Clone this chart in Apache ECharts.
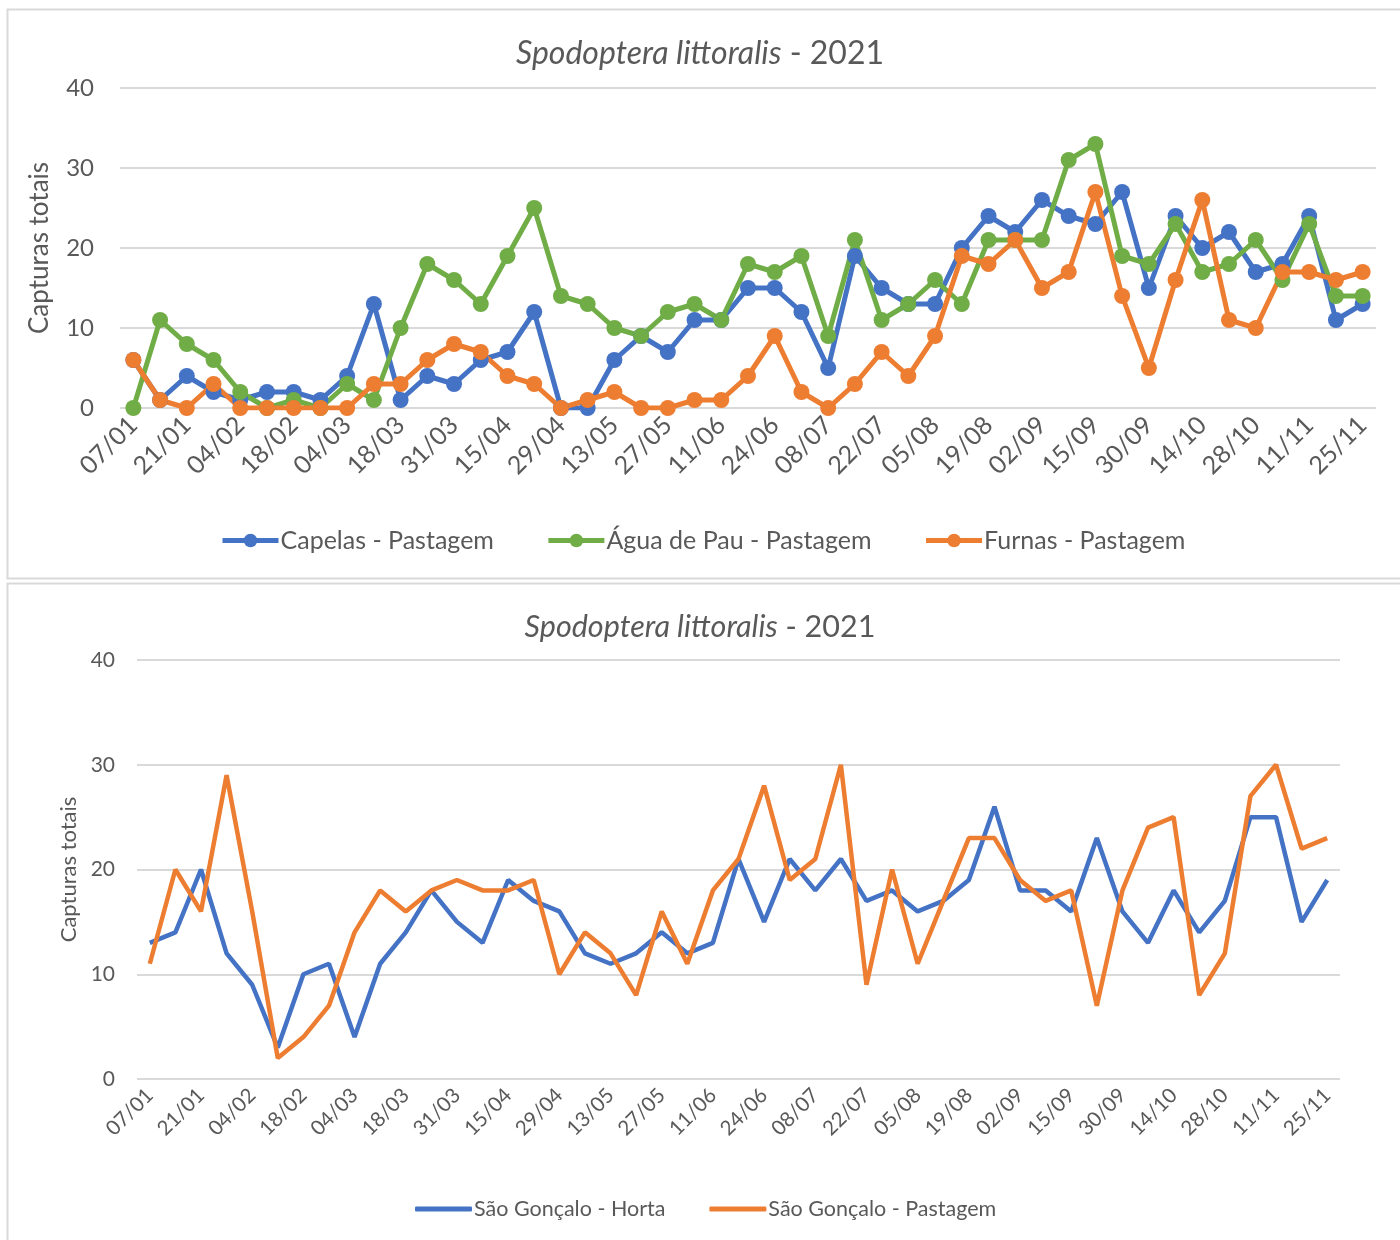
<!DOCTYPE html>
<html>
<head>
<meta charset="utf-8">
<script src="https://cdn.jsdelivr.net/npm/echarts@6/dist/echarts.min.js"></script>
<style>
html,body{margin:0;padding:0;background:#fff;}
#c{width:1400px;height:1240px;}
</style>
</head>
<body>
<div id="c"></div>
<script>
// Categories (sampling dates, 2021)
var dates = ['07/01','14/01','21/01','28/01','04/02','11/02','18/02','25/02','04/03','11/03','18/03','25/03','31/03','08/04','15/04','22/04','29/04','06/05','13/05','20/05','27/05','03/06','11/06','17/06','24/06','01/07','08/07','15/07','22/07','29/07','05/08','12/08','19/08','26/08','02/09','09/09','15/09','22/09','30/09','07/10','14/10','21/10','28/10','04/11','11/11','18/11','25/11'];

// Top chart series
var capelas = [6,1,4,2,1,2,2,1,4,13,1,4,3,6,7,12,0,0,6,9,7,11,11,15,15,12,5,19,15,13,13,20,24,22,26,24,23,27,15,24,20,22,17,18,24,11,13];
var aguaDePau = [0,11,8,6,2,0,1,0,3,1,10,18,16,13,19,25,14,13,10,9,12,13,11,18,17,19,9,21,11,13,16,13,21,21,21,31,33,19,18,23,17,18,21,16,23,14,14];
var furnas = [6,1,0,3,0,0,0,0,0,3,3,6,8,7,4,3,0,1,2,0,0,1,1,4,9,2,0,3,7,4,9,19,18,21,15,17,27,14,5,16,26,11,10,17,17,16,17];

// Bottom chart series
var sgHorta = [13,14,20,12,9,3,10,11,4,11,14,18,15,13,19,17,16,12,11,12,14,12,13,21,15,21,18,21,17,18,16,17,19,26,18,18,16,23,16,13,18,14,17,25,25,15,19];
var sgPastagem = [11,20,16,29,16,2,4,7,14,18,16,18,19,18,18,19,10,14,12,8,16,11,18,21,28,19,21,30,9,20,11,17,23,23,19,17,18,7,18,24,25,8,12,27,30,22,23];

var yTicks = {min:0, max:40, interval:10};

var FONT = 'Lato, "Open Sans", sans-serif';
var TXT = '#595959';
var BLUE = '#4472C4', ORANGE = '#ED7D31', GREEN = '#70AD47';

function titleText(top, size){
  return {
    text: '{i|Spodoptera littoralis}{n| - 2021}',
    left: 'center', top: top,
    textStyle: {
      fontWeight: 'normal',
      rich: {
        i: {fontFamily: FONT, fontStyle: 'italic', fontWeight: 'normal', fontSize: size, color: TXT},
        n: {fontFamily: FONT, fontWeight: 'normal', fontSize: size, color: TXT}
      }
    }
  };
}

function xAx(gi, fs, margin){
  return {
    type: 'category', gridIndex: gi, data: dates, boundaryGap: true,
    axisLine: {show: false}, axisTick: {show: false},
    axisLabel: {interval: 1, rotate: 45, fontFamily: FONT, fontSize: fs, color: TXT, margin: margin}
  };
}
function yAx(gi, fs, nfs, gap, lm){
  return {
    type: 'value', gridIndex: gi, min: yTicks.min, max: yTicks.max, interval: yTicks.interval,
    name: 'Capturas totais', nameLocation: 'middle', nameGap: gap,
    nameTextStyle: {fontFamily: FONT, fontSize: nfs, color: TXT},
    axisLine: {show: false}, axisTick: {show: false},
    axisLabel: {fontFamily: FONT, fontSize: fs, color: TXT, margin: lm},
    splitLine: {lineStyle: {color: '#D9D9D9', width: 2}}
  };
}

var option = {
  animation: false,
  backgroundColor: '#fff',
  graphic: [
    {type: 'rect', shape: {x: 7.5, y: 9.5, width: 1420, height: 569}, style: {fill: 'none', stroke: '#D9D9D9', lineWidth: 2}},
    {type: 'rect', shape: {x: 7.5, y: 583.5, width: 1420, height: 700}, style: {fill: 'none', stroke: '#D9D9D9', lineWidth: 2}}
  ],
  title: [titleText(33, 32), titleText(607, 30.5)],
  legend: [
    {
      data: ['Capelas - Pastagem', 'Água de Pau - Pastagem', 'Furnas - Pastagem'],
      left: 220, top: 528, padding: 0, itemWidth: 56, itemHeight: 17, itemGap: 52,
      lineStyle: {width: 5},
      textStyle: {fontFamily: FONT, fontSize: 25, color: TXT, padding: [0,0,0,-3]}
    },
    {
      data: ['São Gonçalo - Horta', 'São Gonçalo - Pastagem'],
      left: 415, top: 1198, padding: 0, itemWidth: 57, itemHeight: 5, itemGap: 44, icon: 'roundRect',
      textStyle: {fontFamily: FONT, fontSize: 21.5, color: TXT, padding: [0,0,0,-3]}
    }
  ],
  grid: [
    {left: 120, top: 88, width: 1256, height: 320},
    {left: 137, top: 660, width: 1203, height: 419}
  ],
  xAxis: [xAx(0, 25, 13), xAx(1, 20.5, 13)],
  yAxis: [yAx(0, 24, 26, 67, 26), yAx(1, 21, 22, 53, 22)],
  series: [
    {name: 'Capelas - Pastagem', type: 'line', xAxisIndex: 0, yAxisIndex: 0, data: capelas,
     color: BLUE, symbol: 'circle', symbolSize: 16, lineStyle: {width: 5}},
    {name: 'Água de Pau - Pastagem', type: 'line', xAxisIndex: 0, yAxisIndex: 0, data: aguaDePau,
     color: GREEN, symbol: 'circle', symbolSize: 16, lineStyle: {width: 5}},
    {name: 'Furnas - Pastagem', type: 'line', xAxisIndex: 0, yAxisIndex: 0, data: furnas,
     color: ORANGE, symbol: 'circle', symbolSize: 16, lineStyle: {width: 5}},
    {name: 'São Gonçalo - Horta', type: 'line', xAxisIndex: 1, yAxisIndex: 1, data: sgHorta,
     color: BLUE, showSymbol: false, symbol: 'none', lineStyle: {width: 4.5}},
    {name: 'São Gonçalo - Pastagem', type: 'line', xAxisIndex: 1, yAxisIndex: 1, data: sgPastagem,
     color: ORANGE, showSymbol: false, symbol: 'none', lineStyle: {width: 4.5}}
  ]
};

var chart = echarts.init(document.getElementById('c'), null, {renderer: 'canvas'});
chart.setOption(option);
</script>
</body>
</html>
